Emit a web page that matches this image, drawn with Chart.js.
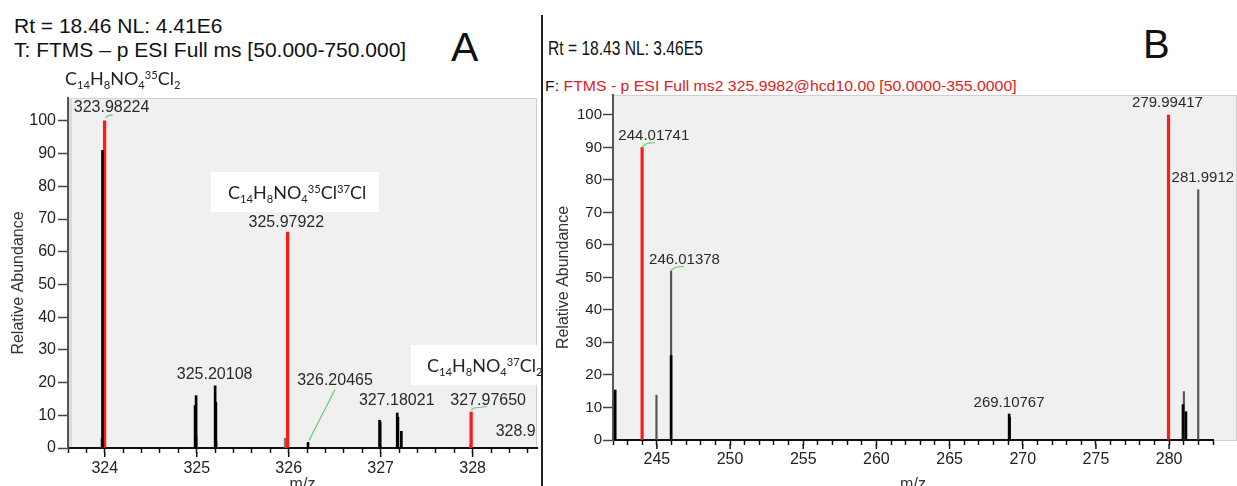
<!DOCTYPE html>
<html>
<head>
<meta charset="utf-8">
<script src="https://cdn.jsdelivr.net/npm/chart.js@4.4.1/dist/chart.umd.min.js"></script>
<style>
body{margin:0;width:1237px;height:486px;overflow:hidden;background:#fff;position:relative;font-family:"Liberation Sans",Arial,sans-serif}
.t{position:absolute;white-space:nowrap;line-height:1;color:#111;transform-origin:0 50%}
#wa{position:absolute;left:0;top:0;width:542px;height:500px}
#wb{position:absolute;left:542px;top:0;width:695px;height:500px}
.sep{position:absolute;left:541px;top:15px;width:1.5px;height:471px;background:#222}
</style>
</head>
<body>
<div class="t" style="left:14px;top:15px;font-size:21px">Rt = 18.46 NL: 4.41E6</div>
<div class="t" style="left:14px;top:39px;font-size:21px">T: FTMS – p ESI Full ms [50.000-750.000]</div>
<div class="t" style="left:451px;top:27px;font-size:41px">A</div>
<div class="t" style="left:548px;top:38px;font-size:20px;transform:scaleX(0.78)">Rt = 18.43 NL: 3.46E5</div>
<div class="t" style="left:1143px;top:24px;font-size:40px">B</div>
<div class="t" style="left:545px;top:79px;font-size:14px;transform:scaleX(1.13)"><span style="color:#111">F:</span> <span style="color:#e0201c">FTMS - p ESI Full ms2 325.9982@hcd10.00 [50.0000-355.0000]</span></div>
<div class="sep"></div>
<div id="wa"><canvas id="chartA"></canvas></div>
<div id="wb"><canvas id="chartB"></canvas></div>
<script>
// panel A - full scan, isotope cluster
var aRedMz = [323.998, 325.988, 327.984];
var aRedAb = [100, 66, 11];
var aBlackMz = [323.975, 324.982, 324.993, 325.200, 325.208, 326.210, 326.988, 326.995, 327.180, 327.188, 327.225];
var aBlackAb = [91, 13, 16, 19, 14, 1.7, 8.5, 8, 10.7, 9.4, 5.1];
var aGrayMz = [323.968, 324.996, 325.212, 325.962, 327.975];
var aGrayAb = [3, 3.5, 2, 3, 1];
var aLabelText = ['323.98224', '325.20108', '325.97922', '326.20465', '327.18021', '327.97650', '328.9'];
var aLabelMz = [323.998, 325.200, 325.988, 326.210, 327.180, 327.984, 328.99];
var aLabelAb = [100, 19, 66, 1.7, 10.7, 11, 0];
var aTickLabels = [324, 325, 326, 327, 328];

// panel B - ms2 of 325.9982
var bRedMz = [243.99, 279.96];
var bRedAb = [90, 100];
var bBlackMz = [242.15, 245.97, 269.07, 269.10, 280.95, 281.15];
var bBlackAb = [15.4, 26, 8, 7, 10.9, 8.7];
var bGrayMz = [244.97, 245.97, 281.01, 281.99];
var bGrayAb = [13.8, 52, 14.9, 77];
var bLabelText = ['244.01741', '246.01378', '269.10767', '279.99417', '281.9912'];
var bLabelMz = [243.99, 245.97, 269.07, 279.96, 281.99];
var bLabelAb = [90, 52, 8, 100, 77];
var bTickLabels = [245, 250, 255, 260, 265, 270, 275, 280];

var yTickLabels = [0, 10, 20, 30, 40, 50, 60, 70, 80, 90, 100];

var FONT = '"Liberation Sans", Arial, sans-serif';

function sticks(mz, ab, color, w, order) {
    return {
        data: mz.map(function (m, i) { return {x: m, y: ab[i]}; }),
        backgroundColor: color,
        barThickness: w,
        grouped: false,
        order: order
    };
}

function drawFormula(ctx, parts, x, cy, size) {
    ctx.textAlign = 'left';
    ctx.textBaseline = 'alphabetic';
    ctx.fillStyle = '#222';
    var base = cy + size * 0.36;
    parts.forEach(function (p) {
        var s = p[1] ? size * 0.62 : size;
        ctx.font = s + 'px Lato';
        var y = p[1] === 1 ? base - size * 0.36 : (p[1] === -1 ? base + size * 0.2 : base);
        ctx.fillText(p[0], x, y);
        x += ctx.measureText(p[0]).width;
    });
}

var panelPlugin = {
    id: 'panel',
    beforeDraw: function (chart, args, o) {
        var ctx = chart.ctx, a = chart.chartArea;
        var right = o.bgToEdge ? chart.width : a.right;
        ctx.save();
        ctx.fillStyle = '#f0f0f0';
        ctx.fillRect(a.left, a.top, right - a.left, a.bottom - a.top + 1);
        ctx.strokeStyle = '#d0d0d0';
        ctx.lineWidth = 1;
        ctx.strokeRect(a.left + 0.5, a.top + 0.5, right - a.left - 1, a.bottom - a.top);
        if (o.leftStrip) {
            ctx.fillStyle = '#dcdcdc';
            ctx.fillRect(a.left, a.top, 4, a.bottom - a.top);
        }
        ctx.restore();
    },
    afterDatasetsDraw: function (chart, args, o) {
        var ctx = chart.ctx, xs = chart.scales.x, ys = chart.scales.y;
        ctx.save();
        o.boxes.forEach(function (b) {
            if (b.w) {
                ctx.fillStyle = '#fff';
                ctx.fillRect(b.x, b.y, b.w, b.h);
            }
            drawFormula(ctx, b.parts, b.tx, b.ty, b.size);
        });
        o.text.forEach(function (t, i) {
            var px = xs.getPixelForValue(o.mz[i]), py = ys.getPixelForValue(o.ab[i]);
            var L = o.leaders[i];
            if (L) {
                ctx.beginPath();
                ctx.strokeStyle = '#6cc86c';
                ctx.lineWidth = 1.2;
                L.forEach(function (q, k) {
                    if (k) ctx.lineTo(px + q[0], py + q[1]); else ctx.moveTo(px + q[0], py + q[1]);
                });
                ctx.stroke();
            }
            ctx.font = o.labelSize + 'px ' + FONT;
            ctx.fillStyle = '#2a2a2a';
            ctx.textAlign = 'center';
            ctx.textBaseline = 'middle';
            ctx.fillText(t, px + o.off[i][0], py + o.off[i][1]);
        });
        ctx.restore();
    },
    afterDraw: function (chart, args, o) {
        var ctx = chart.ctx, xs = chart.scales.x, a = chart.chartArea;
        ctx.save();
        // longer marks on the labelled ticks
        ctx.strokeStyle = '#111';
        ctx.lineWidth = 1.5;
        o.majors.forEach(function (v) {
            var px = xs.getPixelForValue(v);
            ctx.beginPath();
            ctx.moveTo(px, a.bottom + 4);
            ctx.lineTo(px, a.bottom + 9);
            ctx.stroke();
        });
        ctx.translate(o.yTitle[0], o.yTitle[1]);
        ctx.rotate(-Math.PI / 2);
        ctx.font = '16px ' + FONT;
        ctx.fillStyle = '#333';
        ctx.textAlign = 'center';
        ctx.textBaseline = 'middle';
        ctx.fillText('Relative Abundance', 0, 0);
        ctx.restore();
    }
};

function makeChart(id, cfg) {
    var ctx = document.getElementById(id).getContext('2d');
    return new Chart(ctx, {
        type: 'bar',
        data: {datasets: cfg.datasets},
        options: {
            responsive: true,
            maintainAspectRatio: false,
            animation: false,
            events: [],
            layout: {padding: cfg.padding},
            scales: {
                x: {
                    type: 'linear',
                    min: cfg.xMin,
                    max: cfg.xMax,
                    offset: false,
                    afterFit: function (s) { s.height = cfg.xHeight; },
                    grid: {offset: false, drawOnChartArea: false, tickLength: 5, tickWidth: 1.5, tickColor: '#111'},
                    border: {display: true, color: '#111', width: 2},
                    ticks: {
                        stepSize: cfg.xStep,
                        autoSkip: false,
                        maxRotation: 0,
                        includeBounds: false,
                        maxTicksLimit: 1000,
                        padding: cfg.xPad,
                        color: '#222',
                        font: {family: FONT, size: 16},
                        callback: function (v) {
                            var r = Math.round(v);
                            return (Math.abs(v - r) < 1e-6 && cfg.xLabels.indexOf(r) >= 0) ? String(r) : '';
                        }
                    },
                    title: {display: true, text: 'm/z', color: '#333', font: {family: FONT, size: 16}, padding: {top: 0, bottom: cfg.titlePad}}
                },
                y: {
                    min: 0,
                    max: cfg.yMax,
                    afterFit: function (s) { s.width = cfg.yWidth; },
                    grid: {drawOnChartArea: false, tickLength: 10, tickWidth: 1.5, tickColor: '#444'},
                    border: {display: true, color: '#555', width: 2},
                    ticks: {
                        stepSize: 10,
                        includeBounds: false,
                        padding: cfg.yPad,
                        color: '#222',
                        font: {family: FONT, size: cfg.yFont},
                        callback: function (v) { return yTickLabels.indexOf(v) >= 0 ? String(v) : ''; }
                    }
                }
            },
            plugins: {
                legend: {display: false},
                tooltip: {enabled: false},
                panel: cfg.panel
            }
        },
        plugins: [panelPlugin]
    });
}

var F_A35 = [['C', 0], ['14', -1], ['H', 0], ['8', -1], ['NO', 0], ['4', -1], ['35', 1], ['Cl', 0], ['2', -1]];
var F_A3537 = [['C', 0], ['14', -1], ['H', 0], ['8', -1], ['NO', 0], ['4', -1], ['35', 1], ['Cl', 0], ['37', 1], ['Cl', 0]];
var F_A37 = [['C', 0], ['14', -1], ['H', 0], ['8', -1], ['NO', 0], ['4', -1], ['37', 1], ['Cl', 0], ['2', -1]];

makeChart('chartA', {
    datasets: [
        sticks(aGrayMz, aGrayAb, '#777', 2, 3),
        sticks(aRedMz, aRedAb, '#ff1a1a', 2.6, 2),
        sticks(aBlackMz, aBlackAb, '#000', 2, 1)
    ],
    padding: {left: 0, right: 5, top: 98, bottom: 0},
    xMin: 323.6, xMax: 328.7, xStep: 0.2, xLabels: aTickLabels,
    xHeight: 52, xPad: 6, titlePad: 6,
    yMax: 107, yWidth: 68, yPad: 2, yFont: 16,
    panel: {
        bgToEdge: false, leftStrip: true,
        text: aLabelText, mz: aLabelMz, ab: aLabelAb, labelSize: 16,
        off: [[7, -13], [-0.5, -11], [-1.3, -9.6], [27, -62], [-0.5, -12], [17, -11.5], [-48, -16]],
        leaders: {0: [[1, -3], [3, -5], [8, -6]], 3: [[1, -2], [27, -53]], 5: [[0, -2], [3, -4], [16, -5.5]], 6: [[68, -9], [70, -12]]},
        boxes: [
            {parts: F_A35, tx: 65, ty: 78.5, size: 18},
            {x: 211, y: 172, w: 168, h: 40, parts: F_A3537, tx: 228, ty: 193, size: 18},
            {x: 411, y: 345, w: 126, h: 40, parts: F_A37, tx: 427, ty: 366, size: 18}
        ],
        majors: aTickLabels,
        yTitle: [18.3, 283]
    }
});

makeChart('chartB', {
    datasets: [
        sticks(bGrayMz, bGrayAb, '#555', 1.5, 3),
        sticks(bRedMz, bRedAb, '#ff1a1a', 2.5, 2),
        sticks(bBlackMz, bBlackAb, '#000', 2, 1)
    ],
    padding: {left: 0, right: 24, top: 95, bottom: 0},
    xMin: 242, xMax: 283, xStep: 1, xLabels: bTickLabels,
    xHeight: 60, xPad: 5, titlePad: 6,
    yMax: 106.15, yWidth: 71, yPad: 1, yFont: 15,
    panel: {
        bgToEdge: true, leftStrip: false,
        text: bLabelText, mz: bLabelMz, ab: bLabelAb, labelSize: 15,
        off: [[11.7, -11.7], [13.4, -10.7], [-0.1, -11.2], [-1, -11.7], [4.6, -12.2]],
        leaders: {0: [[0, -1], [5, -4], [13, -5]], 1: [[0, -1], [5, -4], [13, -4.5]]},
        boxes: [],
        majors: bTickLabels,
        yTitle: [22, 277.5]
    }
});
</script>
</body>
</html>
